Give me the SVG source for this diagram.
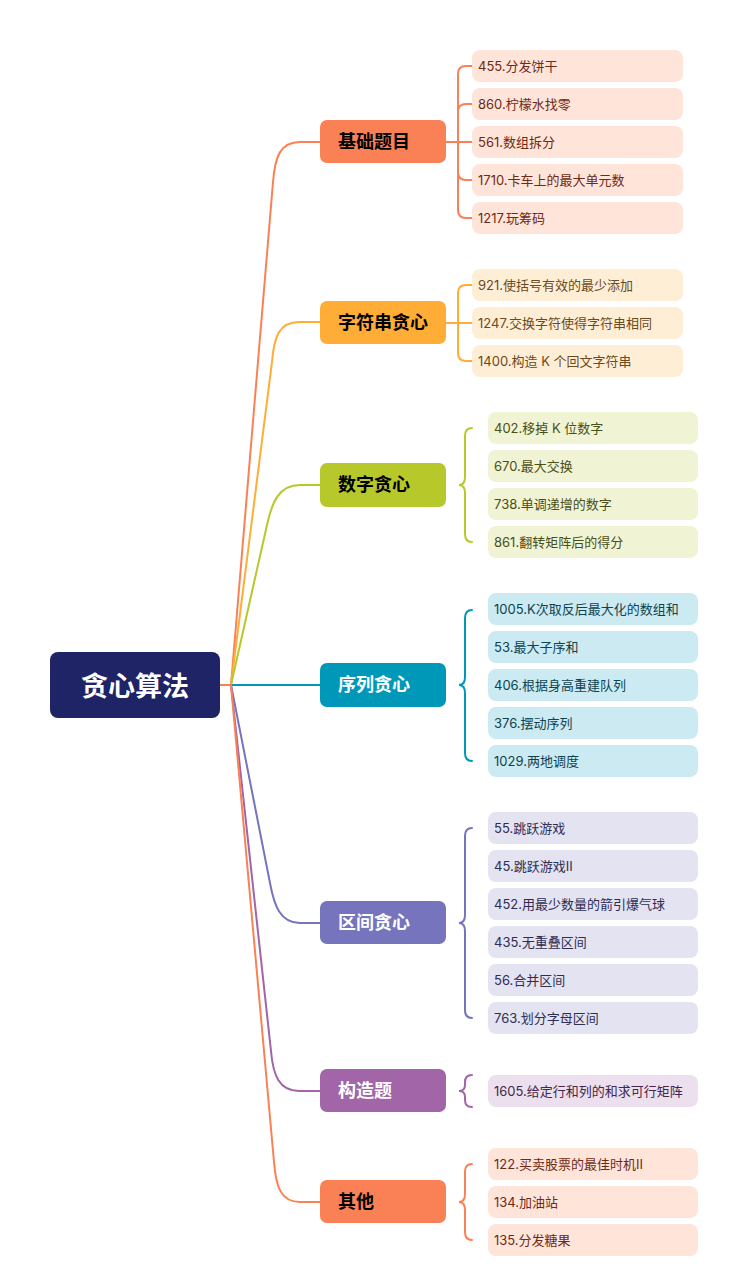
<svg xmlns="http://www.w3.org/2000/svg" width="749" height="1278" viewBox="0 0 749 1278">
<style>
text{font-family:"Noto Sans","Noto Sans CJK SC",sans-serif}
.root{font-size:27px;font-weight:bold;fill:#fff}
.br{font-size:18px;font-weight:bold}
.lf{font-size:13px;font-family:Inter,"Noto Sans CJK SC",sans-serif}
.c{fill:none;stroke-width:2;stroke-linecap:round}
</style>
<rect width="749" height="1278" fill="#fff"/>
<g id="connectors">
<path class="c" stroke="#FA8155" d="M220,685 L231,685"/>
<path class="c" stroke="#FA8155" d="M231,685 L273,182 C275,157 280,142 300,142 L320,142"/>
<path class="c" stroke="#FFAD36" d="M231,685 L272,362 C274,337 279,322 299,322 L320,322"/>
<path class="c" stroke="#B7C82B" d="M231,685 L267,525 C272,502 279,485 300,485 L320,485"/>
<path class="c" stroke="#0098B9" d="M231,685 L320,685"/>
<path class="c" stroke="#7574BC" d="M231,685 L270,883 C274,905 280,923 300,923 L320,923"/>
<path class="c" stroke="#A165A8" d="M231,685 L271,1051 C273,1075 279,1091 299,1091 L320,1091"/>
<path class="c" stroke="#FA8155" d="M231,685 L274,1162 C276,1187 281,1202 300,1202 L320,1202"/>
<g stroke="#FA8155" class="c">
<path class="c" d="M446,142 L472,142"/>
<path class="c" d="M458,142 L458,74 Q458,66 466,66 L472,66"/>
<path class="c" d="M458,142 L458,112 Q458,104 466,104 L472,104"/>
<path class="c" d="M458,142 L458,172 Q458,180 466,180 L472,180"/>
<path class="c" d="M458,142 L458,210 Q458,218 466,218 L472,218"/>
</g>
<g stroke="#FFAD36" class="c">
<path class="c" d="M446,323 L472,323"/>
<path class="c" d="M458,323 L458,293 Q458,285 466,285 L472,285"/>
<path class="c" d="M458,323 L458,353 Q458,361 466,361 L472,361"/>
</g>
<path class="c" stroke="#B7C82B" d="M472,428 Q465,428 465,436 L465,477 Q465,485 459,485 Q465,485 465,493 L465,534 Q465,542 472,542"/>
<path class="c" stroke="#0098B9" d="M472,610 Q465,610 465,618 L465,677 Q465,685 459,685 Q465,685 465,693 L465,753 Q465,761 472,761"/>
<path class="c" stroke="#7574BC" d="M472,828 Q465,828 465,836 L465,915 Q465,923 459,923 Q465,923 465,931 L465,1010 Q465,1018 472,1018"/>
<path class="c" stroke="#A165A8" d="M472,1075 Q465,1075 465,1082 L465,1085 Q465,1091 459,1091 Q465,1091 465,1097 L465,1100 Q465,1107 472,1107"/>
<path class="c" stroke="#FA8155" d="M472,1164 Q465,1164 465,1172 L465,1194 Q465,1202 459,1202 Q465,1202 465,1210 L465,1232 Q465,1240 472,1240"/>
</g>
<g id="root">
<rect x="50" y="652" width="170" height="66" rx="8" fill="#1F2466"/>
<text class="root" x="135" y="696" text-anchor="middle">贪心算法</text>
</g>
<g id="b1">
<rect x="320" y="120" width="126" height="43" rx="7" fill="#FA8155"/>
<text class="br" x="338" y="148" fill="#000">基础题目</text>
</g>
<g id="b2">
<rect x="320" y="301" width="126" height="43" rx="7" fill="#FFAD36"/>
<text class="br" x="338" y="329" fill="#000">字符串贪心</text>
</g>
<g id="b3">
<rect x="320" y="463" width="126" height="44" rx="7" fill="#B7C82B"/>
<text class="br" x="338" y="491" fill="#000">数字贪心</text>
</g>
<g id="b4">
<rect x="320" y="663" width="126" height="44" rx="7" fill="#0098B9"/>
<text class="br" x="338" y="691" fill="#fff">序列贪心</text>
</g>
<g id="b5">
<rect x="320" y="901" width="126" height="43" rx="7" fill="#7574BC"/>
<text class="br" x="338" y="929" fill="#fff">区间贪心</text>
</g>
<g id="b6">
<rect x="320" y="1069" width="126" height="43" rx="7" fill="#A165A8"/>
<text class="br" x="338" y="1097" fill="#fff">构造题</text>
</g>
<g id="b7">
<rect x="320" y="1180" width="126" height="43" rx="7" fill="#FA8155"/>
<text class="br" x="338" y="1208" fill="#000">其他</text>
</g>
<g id="leaves1" fill="#FFE4DA">
<g id="l455"><rect x="472" y="50" width="211" height="32" rx="8" fill="#FFE4DA"/><text class="lf" x="478" y="70.5" fill="#6E2A12">455.分发饼干</text></g>
<g id="l860"><rect x="472" y="88" width="211" height="32" rx="8" fill="#FFE4DA"/><text class="lf" x="478" y="108.5" fill="#6E2A12">860.柠檬水找零</text></g>
<g id="l561"><rect x="472" y="126" width="211" height="32" rx="8" fill="#FFE4DA"/><text class="lf" x="478" y="146.5" fill="#6E2A12">561.数组拆分</text></g>
<g id="l1710"><rect x="472" y="164" width="211" height="32" rx="8" fill="#FFE4DA"/><text class="lf" x="478" y="184.5" fill="#6E2A12">1710.卡车上的最大单元数</text></g>
<g id="l1217"><rect x="472" y="202" width="211" height="32" rx="8" fill="#FFE4DA"/><text class="lf" x="478" y="222.5" fill="#6E2A12">1217.玩筹码</text></g>
</g>
<g id="leaves2">
<g id="l921"><rect x="472" y="269" width="211" height="32" rx="8" fill="#FFEED6"/><text class="lf" x="478" y="289.5" fill="#6B4A1C">921.使括号有效的最少添加</text></g>
<g id="l1247"><rect x="472" y="307" width="211" height="32" rx="8" fill="#FFEED6"/><text class="lf" x="478" y="327.5" fill="#6B4A1C">1247.交换字符使得字符串相同</text></g>
<g id="l1400"><rect x="472" y="345" width="211" height="32" rx="8" fill="#FFEED6"/><text class="lf" x="478" y="365.5" fill="#6B4A1C">1400.构造 K 个回文字符串</text></g>
</g>
<g id="leaves3">
<g id="l402"><rect x="488" y="412" width="210" height="32" rx="8" fill="#F0F4D5"/><text class="lf" x="494" y="432.5" fill="#4A4F17">402.移掉 K 位数字</text></g>
<g id="l670"><rect x="488" y="450" width="210" height="32" rx="8" fill="#F0F4D5"/><text class="lf" x="494" y="470.5" fill="#4A4F17">670.最大交换</text></g>
<g id="l738"><rect x="488" y="488" width="210" height="32" rx="8" fill="#F0F4D5"/><text class="lf" x="494" y="508.5" fill="#4A4F17">738.单调递增的数字</text></g>
<g id="l861"><rect x="488" y="526" width="210" height="32" rx="8" fill="#F0F4D5"/><text class="lf" x="494" y="546.5" fill="#4A4F17">861.翻转矩阵后的得分</text></g>
</g>
<g id="leaves4">
<g id="l1005"><rect x="488" y="593" width="210" height="32" rx="8" fill="#CCEAF1"/><text class="lf" x="494" y="613.5" fill="#0D4350">1005.K次取反后最大化的数组和</text></g>
<g id="l53"><rect x="488" y="631" width="210" height="32" rx="8" fill="#CCEAF1"/><text class="lf" x="494" y="651.5" fill="#0D4350">53.最大子序和</text></g>
<g id="l406"><rect x="488" y="669" width="210" height="32" rx="8" fill="#CCEAF1"/><text class="lf" x="494" y="689.5" fill="#0D4350">406.根据身高重建队列</text></g>
<g id="l376"><rect x="488" y="707" width="210" height="32" rx="8" fill="#CCEAF1"/><text class="lf" x="494" y="727.5" fill="#0D4350">376.摆动序列</text></g>
<g id="l1029"><rect x="488" y="745" width="210" height="32" rx="8" fill="#CCEAF1"/><text class="lf" x="494" y="765.5" fill="#0D4350">1029.两地调度</text></g>
</g>
<g id="leaves5">
<g id="l55"><rect x="488" y="812" width="210" height="32" rx="8" fill="#E3E3F2"/><text class="lf" x="494" y="832.5" fill="#2E2D52">55.跳跃游戏</text></g>
<g id="l45"><rect x="488" y="850" width="210" height="32" rx="8" fill="#E3E3F2"/><text class="lf" x="494" y="870.5" fill="#2E2D52">45.跳跃游戏II</text></g>
<g id="l452"><rect x="488" y="888" width="210" height="32" rx="8" fill="#E3E3F2"/><text class="lf" x="494" y="908.5" fill="#2E2D52">452.用最少数量的箭引爆气球</text></g>
<g id="l435"><rect x="488" y="926" width="210" height="32" rx="8" fill="#E3E3F2"/><text class="lf" x="494" y="946.5" fill="#2E2D52">435.无重叠区间</text></g>
<g id="l56"><rect x="488" y="964" width="210" height="32" rx="8" fill="#E3E3F2"/><text class="lf" x="494" y="984.5" fill="#2E2D52">56.合并区间</text></g>
<g id="l763"><rect x="488" y="1002" width="210" height="32" rx="8" fill="#E3E3F2"/><text class="lf" x="494" y="1022.5" fill="#2E2D52">763.划分字母区间</text></g>
</g>
<g id="leaves6">
<g id="l1605"><rect x="488" y="1075" width="210" height="32" rx="8" fill="#ECE0EE"/><text class="lf" x="494" y="1095.5" fill="#43264A">1605.给定行和列的和求可行矩阵</text></g>
</g>
<g id="leaves7">
<g id="l122"><rect x="488" y="1148" width="210" height="32" rx="8" fill="#FFE4DA"/><text class="lf" x="494" y="1168.5" fill="#6E2A12">122.买卖股票的最佳时机II</text></g>
<g id="l134"><rect x="488" y="1186" width="210" height="32" rx="8" fill="#FFE4DA"/><text class="lf" x="494" y="1206.5" fill="#6E2A12">134.加油站</text></g>
<g id="l135"><rect x="488" y="1224" width="210" height="32" rx="8" fill="#FFE4DA"/><text class="lf" x="494" y="1244.5" fill="#6E2A12">135.分发糖果</text></g>
</g>
</svg>
